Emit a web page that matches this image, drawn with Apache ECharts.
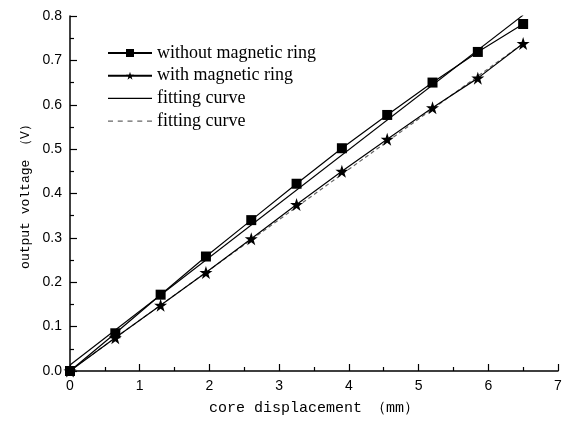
<!DOCTYPE html>
<html><head><meta charset="utf-8">
<script src="https://cdn.jsdelivr.net/npm/echarts@6/dist/echarts.min.js"></script>
<style>html,body{margin:0;padding:0;background:#fff}#c{width:566px;height:426px}</style>
</head><body><div id="c"></div>
<script>
var xValues = [0, 0.65, 1.3, 1.95, 2.6, 3.25, 3.9, 4.55, 5.2, 5.85, 6.5];
var withoutRing = [0.0, 0.085, 0.172, 0.258, 0.340, 0.422, 0.502, 0.577, 0.650, 0.719, 0.782];
var withRing = [0.0, 0.075, 0.148, 0.222, 0.298, 0.375, 0.450, 0.522, 0.593, 0.660, 0.738];
var fitSolidX = [0, 6.5];
var fitSolidY = [0.0135, 0.802];
var fitDashedX = [0, 6.5];
var fitDashedY = [0.001, 0.738];
var seriesNames = ['without magnetic ring', 'with magnetic ring', 'fitting curve', 'fitting curve '];
var xTicks = [0,1,2,3,4,5,6,7];

function zip(a, b) { return a.map(function (v, i) { return [v, b[i]]; }); }

var starPath = 'path://M50,0 L61.8,35.1 L98.8,35.1 L68.8,57 L80.2,92.7 L50,70.7 L19.8,92.7 L31.2,57 L1.2,35.1 L38.2,35.1 Z';
var solidIcon = 'path://M0,0 M44,10 M0,4.4 L44,4.4 L44,5.6 L0,5.6 Z';
var dashIcon = 'path://M0,0 M44,10 M0,4.4 L5,4.4 L5,5.6 L0,5.6 Z M9.75,4.4 L14.75,4.4 L14.75,5.6 L9.75,5.6 Z M19.5,4.4 L24.5,4.4 L24.5,5.6 L19.5,5.6 Z M29.25,4.4 L34.25,4.4 L34.25,5.6 L29.25,5.6 Z M39,4.4 L44,4.4 L44,5.6 L39,5.6 Z';
var chart = echarts.init(document.getElementById('c'), null, {renderer: 'canvas'});
var axisFont = {fontFamily: 'Liberation Sans', fontSize: 14, color: '#000'};
chart.setOption({
  animation: false,
  backgroundColor: '#fff',
  grid: {left: 70, right: 8, top: 16, bottom: 55, containLabel: false},
  legend: {
    orient: 'vertical', left: 102, top: 39, itemWidth: 44, itemHeight: 10, itemGap: 4.7,
    symbolKeepAspect: false,
    textStyle: {fontFamily: 'Liberation Serif', fontSize: 18, color: '#000'},
    data: [
      {name: seriesNames[0]}, {name: seriesNames[1]},
      {name: seriesNames[2], icon: solidIcon, itemStyle: {color: '#000'}},
      {name: seriesNames[3], icon: dashIcon, itemStyle: {color: '#666'}}
    ]
  },
  xAxis: {
    type: 'value', min: 0, max: 7, interval: 1,
    name: 'core displacement （mm）', nameLocation: 'middle', nameGap: 30,
    nameTextStyle: {fontFamily: 'Liberation Mono', fontSize: 15, color: '#000'},
    axisLine: {show: true, onZero: false, lineStyle: {color: '#000', width: 1.5}},
    axisTick: {show: true, inside: true, length: 7, lineStyle: {color: '#000', width: 1.2}},
    minorTick: {show: true, splitNumber: 2, length: 4, lineStyle: {color: '#000', width: 1.2}},
    axisLabel: Object.assign({margin: 8, formatter: function (v) { return String(v); }}, axisFont),
    splitLine: {show: false}
  },
  yAxis: {
    type: 'value', min: 0, max: 0.8, interval: 0.1,
    name: 'output voltage （V）', nameLocation: 'middle', nameGap: 38,
    nameTextStyle: {fontFamily: 'Liberation Mono', fontSize: 13, color: '#000'},
    axisLine: {show: true, onZero: false, lineStyle: {color: '#000', width: 1.5}},
    axisTick: {show: true, inside: true, length: 7, lineStyle: {color: '#000', width: 1.2}},
    minorTick: {show: true, splitNumber: 2, length: 4, lineStyle: {color: '#000', width: 1.2}},
    axisLabel: Object.assign({margin: 8, formatter: function (v) { return v.toFixed(1); }}, axisFont),
    splitLine: {show: false}
  },
  series: [
    {name: seriesNames[0], type: 'line', data: zip(xValues, withoutRing), symbol: 'rect', symbolSize: 10,
      itemStyle: {color: '#000'}, lineStyle: {color: '#000', width: 1.2}, z: 3},
    {name: seriesNames[1], type: 'line', data: zip(xValues, withRing), symbol: starPath, symbolSize: 13,
      itemStyle: {color: '#000'}, lineStyle: {color: '#000', width: 1.2}, z: 3},
    {name: seriesNames[2], type: 'line', data: zip(fitSolidX, fitSolidY), symbol: 'none',
      itemStyle: {color: '#000'}, lineStyle: {color: '#000', width: 1.2}, z: 2},
    {name: seriesNames[3], type: 'line', data: zip(fitDashedX, fitDashedY), symbol: 'none',
      itemStyle: {color: '#666'}, lineStyle: {color: '#666', width: 1.2, type: [4, 3]}, z: 2}
  ]
});
</script></body></html>
